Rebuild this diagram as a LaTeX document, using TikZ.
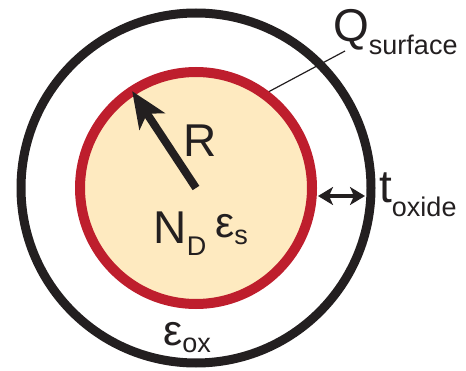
\documentclass[tikz,border=0pt]{standalone}
\usepackage{fontspec}
\setmainfont{Liberation Sans}
\usetikzlibrary{arrows.meta}
\definecolor{ringred}{RGB}{190,30,45}
\definecolor{corefill}{RGB}{254,234,192}
\definecolor{inkblack}{RGB}{35,31,32}
\newcommand{\lblbig}{\fontsize{46pt}{46pt}\selectfont}
\newcommand{\lblsub}{\fontsize{27pt}{27pt}\selectfont}
\newcommand{\lbleps}{\fontsize{43pt}{43pt}\selectfont}

\begin{document}
\begin{tikzpicture}[x=1pt,y=1pt,line join=round,inkblack,
	lbl/.style={inner sep=0pt,anchor=base west,text=inkblack}]
	\useasboundingbox (0,0) rectangle (466,370);
	\coordinate (c) at (196,182);
	% oxide shell
	\draw[line width=9pt] (c) circle (175);
	% surface charge pointer, then the core on top of it
	\coordinate (qtail) at (345,319);
	\coordinate (qpt) at ([shift={(54:116)}]c);
	\draw[line width=1.2pt] (qtail) -- (qpt);
	\draw[ringred,line width=10pt,fill=corefill] (c) circle (116);
	% radius
	\coordinate (rtip) at ([shift={(123.4:116)}]c);
	\draw[line width=8pt,-{Stealth[length=36pt,width=30pt,inset=9pt]}] (c) -- (rtip);
	% oxide thickness
	\coordinate (tin) at (318,174);
	\coordinate (tout) at (365,174);
	\draw[line width=3.5pt,{Stealth[length=15pt,width=18pt,inset=4pt]}-{Stealth[length=15pt,width=18pt,inset=4pt]}] (tin) -- (tout);
	% labels
	\node[lbl] (R) at (183.5,213) {\lblbig R};
	\node[lbl] (ND) at (153.5,127) {\lblbig N\raisebox{-12pt}{\lblsub D}};
	\node[lbl] (es) at (215,132) {\lbleps ε\raisebox{-7pt}{\lblsub s}};
	\node[lbl] (Q) at (333,328) {\lblbig Q\raisebox{-13pt}{\lblsub surface}};
	\node[lbl] (t) at (379,167) {\lblbig t\raisebox{-14pt}{\lblsub oxide}};
	\node[lbl] (eox) at (163,25) {\lbleps ε\raisebox{-7pt}{\lblsub ox}};
\end{tikzpicture}
\end{document}
